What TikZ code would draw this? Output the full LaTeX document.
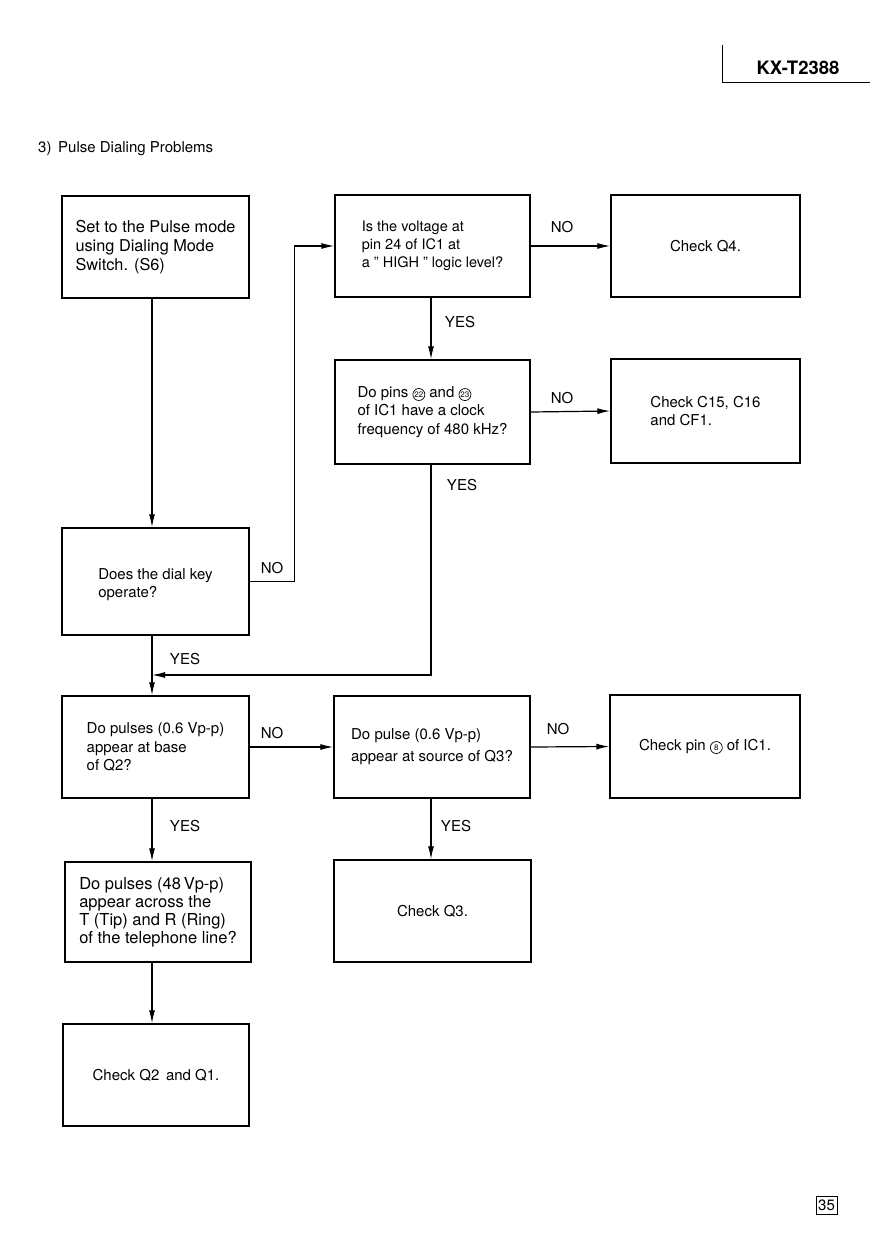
\documentclass[tikz,border=0pt]{standalone}
\usepackage{fontspec}
\setmainfont{TeX Gyre Heros}
\usetikzlibrary{arrows.meta}
\newcommand\cnum[1]{\tikz[baseline=(cc.base),x=1cm,y=1cm]\node[circle,draw,minimum size=12pt,minimum width=12pt,minimum height=12pt,line width=0.7pt,inner sep=0pt,align=center,font=\fontsize{8}{8}\selectfont](cc){#1};}
\tikzset{
  box/.style={draw,line width=1.4pt,align=left,font=\fontsize{15}{19}\selectfont,inner sep=0pt},
  arr/.style={line width=1.2pt,-{Latex[length=13pt,width=6pt]}},
  lbl/.style={font=\fontsize{15}{16}\selectfont,inner sep=0pt}
}
\begin{document}
\begin{tikzpicture}[x=1pt,y=-1pt]
\useasboundingbox (0,0) rectangle (893,1260);
% header
\draw[line width=1pt] (722,45) -- (722,83) -- (870,83);
\node[font=\fontsize{18.5}{18.5}\selectfont\bfseries,inner sep=0pt] (model) at (798,68) {KX-T2388};
\node[anchor=west,font=\fontsize{15}{16}\selectfont,inner sep=0pt] (title) at (38,149) {3)\, Pulse Dialing Problems};
\node[draw,line width=0.8pt,minimum width=21,minimum height=18,inner sep=0pt,font=\fontsize{15}{15}\selectfont] (page) at (826.5,1205) {35};
% boxes
\node[box,minimum width=187,minimum height=102,font=\fontsize{16.3}{19}\selectfont] (A) at (155.5,247) {Set to the Pulse mode\\using Dialing Mode\\Switch. (S6)};
\node[box,minimum width=195,minimum height=102,font=\fontsize{14.5}{18}\selectfont] (B) at (432.5,246) {Is the voltage at\\pin 24 of IC1 at\\a " HIGH " logic level?};
\node[box,minimum width=189,minimum height=102] (C) at (705.5,246) {Check Q4.};
\node[box,minimum width=195,minimum height=104,font=\fontsize{15}{18.5}\selectfont] (D) at (432.5,412) {Do pins \cnum{22} and \cnum{23}\\of IC1 have a clock\\frequency of 480 kHz?};
\node[box,minimum width=189,minimum height=104,font=\fontsize{15}{18}\selectfont] (E) at (705.5,411) {Check C15, C16\\and CF1.};
\node[box,minimum width=187,minimum height=107,font=\fontsize{15}{18}\selectfont] (F) at (155.5,581.5) {\\Does the dial key\\operate?};
\node[box,minimum width=187,minimum height=102,font=\fontsize{15}{18.5}\selectfont] (G) at (155.5,747) {Do pulses (0.6 Vp-p)\\appear at base\\of Q2?};
\node[box,minimum width=196,minimum height=102,font=\fontsize{15}{22}\selectfont] (H) at (432,747) {Do pulse (0.6 Vp-p)\\appear at source of Q3?};
\node[box,minimum width=190,minimum height=103] (I) at (705,746.5) {Check pin \cnum{8} of IC1.};
\node[box,minimum width=186,minimum height=100,font=\fontsize{16.5}{18}\selectfont] (J) at (158,912) {Do pulses (48\,Vp-p)\\appear across the\\T (Tip) and R (Ring)\\of the telephone line?};
\node[box,minimum width=197,minimum height=102] (K) at (432.5,911) {Check Q3.};
\node[box,minimum width=186,minimum height=102] (L) at (156,1075) {Check Q2\, and Q1.};
% junction
\coordinate (jn) at (152,675);
% connectors
\draw[arr] (A.south -| jn) -- (F.north -| jn);
\draw[arr] (F.east) -- ++(45,0) |- (B.west);
\draw[arr] (B.east) -- (C.west);
\draw[arr] (B.south -| 431,0) -- (D.north -| 431,0);
\draw[arr] (D.east) -- (E.west);
\draw[arr] (D.south -| 431,0) |- (jn);
\draw[arr] (F.south -| jn) -- (G.north -| jn);
\draw[arr] (G.east) -- (H.west);
\draw[arr] (H.east) -- (I.west);
\draw[arr] (H.south -| 431,0) -- (K.north -| 431,0);
\draw[arr] (G.south -| jn) -- (J.north -| jn);
\draw[arr] (J.south -| jn) -- (L.north -| jn);
% labels
\node[lbl] (l1) at (272,568) {NO};
\node[lbl] (l2) at (562,227) {NO};
\node[lbl] (l3) at (460,322) {YES};
\node[lbl] (l4) at (562,398) {NO};
\node[lbl] (l5) at (462,485) {YES};
\node[lbl] (l6) at (185,659) {YES};
\node[lbl] (l7) at (272,733) {NO};
\node[lbl] (l8) at (558,729) {NO};
\node[lbl] (l9) at (456,826) {YES};
\node[lbl] (l10) at (185,826) {YES};
\end{tikzpicture}
\end{document}
